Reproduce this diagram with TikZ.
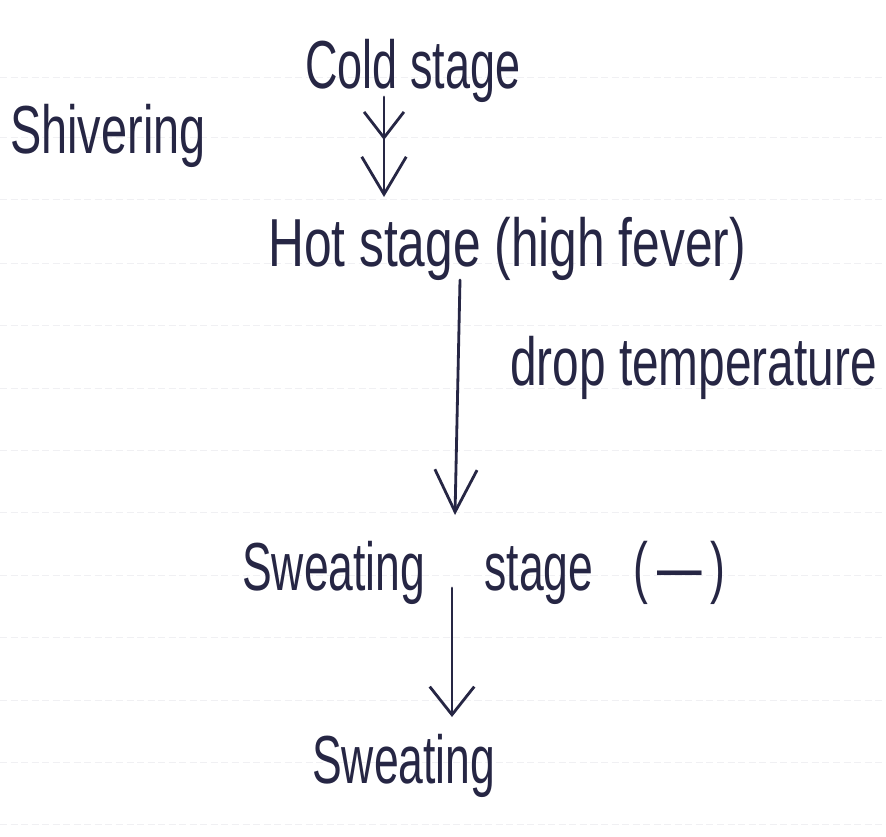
\documentclass[tikz,border=0pt]{standalone}
\usepackage{fontspec}
\usepackage{graphicx}
\setmainfont{Liberation Sans}
\usetikzlibrary{arrows.meta,decorations.markings}
\definecolor{ink}{RGB}{38,38,68}
\definecolor{rule}{RGB}{240,240,243}
\newcommand{\hw}[2][1]{\scalebox{#1}[1.45]{\fontsize{40}{44}\selectfont #2}}
\tikzset{
  txt/.style={anchor=base west, inner sep=0pt, text=ink},
  conn/.style={draw=ink, line width=2.4pt, line cap=round},
  tipA/.style={-{Straight Barb[length=32pt,width=38pt,line width=2.4pt]}},
  midtip/.style={postaction={decorate}, decoration={markings,
      mark=at position #1 with {\arrow{Straight Barb[length=22pt,width=34pt,line width=2.4pt]}}}}
}
\begin{document}
\begin{tikzpicture}[x=0.03cm,y=-0.03cm]
\useasboundingbox[fill=white] (0,0) rectangle (886,837);
% faint notebook rules
\foreach \yy in {77,137,199,263,325,388,450,512,575,637,700,762,824}
  \draw[rule, line width=0.6pt, dash pattern=on 6pt off 3pt] (0,\yy) -- (886,\yy);

\node[txt] (cold) at (305,88) {\hw[0.96]{Cold stage}};
\node[txt] (shiv) at (10,153) {\hw{Shivering}};
\node[txt] (hot)  at (268,266) {\hw[1.06]{Hot stage (high fever)}};
\node[txt] (drop) at (510,385) {\hw[1.02]{drop temperature}};
\node[txt] (swst) at (242,590) {\hw[0.95]{Sweating\hspace{1.33em}stage\hspace{0.9em}(\hspace{0.2em}—\hspace{0.2em})}};
\node[txt] (sw)   at (312,783) {\hw[0.95]{Sweating}};

% connector endpoints
\coordinate (c1a) at (384,97);
\coordinate (c1b) at (384,197);
\coordinate (c2a) at (460,280);
\coordinate (c2b) at (455,515);
\coordinate (c3a) at (452,588);
\coordinate (c3b) at (452,717);

\draw[conn, tipA, midtip=0.43] (c1a) -- (c1b);
\draw[conn, -{Straight Barb[length=36pt,width=36pt,line width=2.4pt]}] (c2a) -- (c2b);
\draw[conn, -{Straight Barb[length=24pt,width=38pt,line width=2.4pt]}] (c3a) -- (c3b);
\end{tikzpicture}
\end{document}
